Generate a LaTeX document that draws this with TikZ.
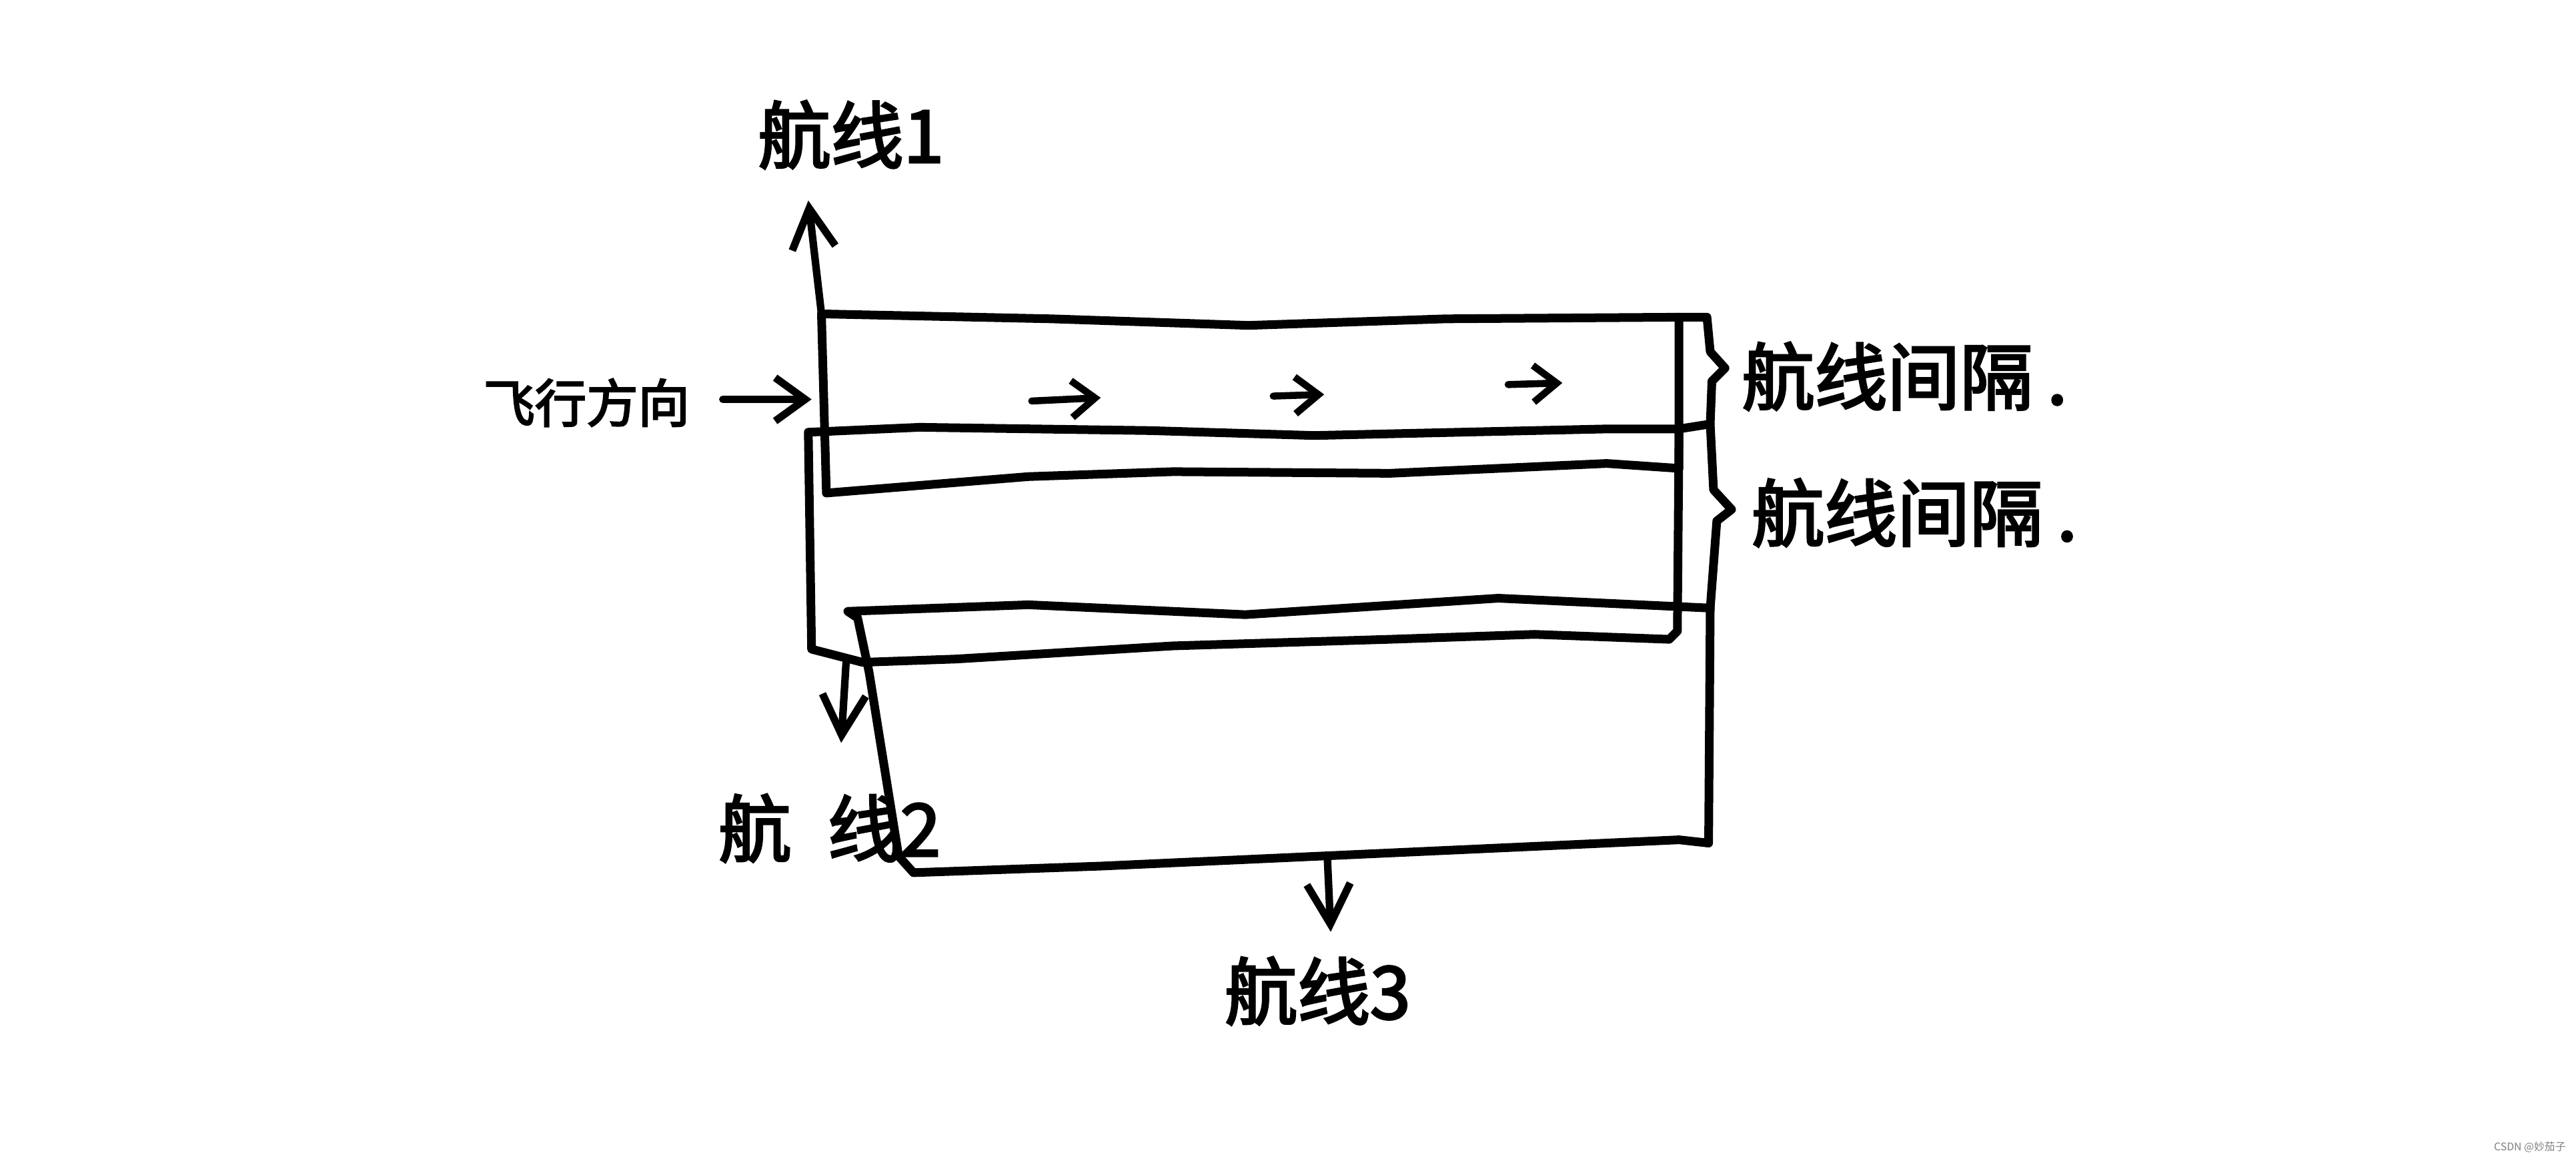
\documentclass[tikz,border=0pt]{standalone}
\usepackage{fontspec}
\newfontfamily\cjk{Noto Sans CJK SC}[AutoFakeBold=3]
\usetikzlibrary{arrows.meta}

\begin{document}
\begin{tikzpicture}[x=0.02463cm, y=-0.02463cm, font=\cjk,
		>={Straight Barb[length=6mm,width=6.5mm]},
		strip/.style={line width=3.7pt, line join=round, line cap=round},
		route/.style={->, line width=3.2pt, line cap=round},
		heading/.style={->, line width=3pt, line cap=round, >={Straight Barb[length=3.5mm,width=5.5mm]}},
		label/.style={font=\cjk\bfseries\fontsize{31}{34}\selectfont, inner sep=0pt}]
		\useasboundingbox (0,0) rectangle (1568,704);
		\coordinate (S1NW) at (500,191);
		\coordinate (S1NE) at (1022,193);
		\coordinate (S2NW) at (492,263);
		\coordinate (S2NE) at (1022,261);
		\coordinate (S2Foot) at (515,403);
		\coordinate (S3NE) at (1041,370);
		\coordinate (S3Foot) at (808,523);
		\draw[strip] (S1NW) -- (640,194) -- (760,198) -- (880,194) -- (S1NE) -- (1022,285) -- (978,282) -- (846,288) -- (714,287) -- (626,290) -- (503,300) -- cycle;
		\draw[strip] (S2NW) -- (560,260) -- (700,262) -- (800,265) -- (978,261) -- (S2NE) -- (1021,384) -- (1016,389) -- (934,386) -- (846,389) -- (714,393) -- (582,401) -- (525,403) -- (494,395) -- cycle;
		\draw[strip] (516,372) -- (626,368) -- (758,374) -- (912,364) -- (S3NE) -- (1040,513) -- (1022,511) -- (934,515) -- (802,521) -- (670,527) -- (556,531) -- (547,521) -- (529,409) -- (522,376) -- cycle;
		\draw[strip] (S1NE) -- (1039,193) -- (1041,214) -- (1050,224) coordinate (Gap1Tip) -- (1042,232) -- (1041,258) -- (S2NE);
		\draw[strip] (1041,258) -- (1043,298) -- (1054,310) coordinate (Gap2Tip) -- (1045,317) -- (S3NE);
		\node[label, anchor=west] (Gap1) at (1060,229) {航线间隔\hspace{0.2em}.};
		\node[label, anchor=west] (Gap2) at (1066,312) {航线间隔\hspace{0.2em}.};
		\node[label] (Route1) at (518,82) {航线1};
		\coordinate (Route1Tip) at (492,122);
		\draw[route] (S1NW) -- (Route1Tip);
		\node[label] (Route2) at (505,504) {航\hspace{0.5em}线2};
		\coordinate (Route2Tip) at (512,452);
		\draw[route] (S2Foot) -- (Route2Tip);
		\node[label] (Route3) at (802,603) {航线3};
		\coordinate (Route3Tip) at (810,567);
		\draw[route] (S3Foot) -- (Route3Tip);
		\node[font=\cjk\bfseries\fontsize{22}{24}\selectfont, inner sep=0pt] (Direction) at (357,245) {飞行方向};
		\coordinate (DirTail) at (440,243);
		\coordinate (DirTip) at (494,243);
		\draw[route, >={Straight Barb[length=4.5mm,width=6.5mm]}] (DirTail) -- (DirTip);
		\coordinate (Head1Tail) at (628,244);
		\coordinate (Head1Tip) at (670,242);
		\coordinate (Head2Tail) at (775,241);
		\coordinate (Head2Tip) at (806,240);
		\coordinate (Head3Tail) at (918,234);
		\coordinate (Head3Tip) at (951,233);
		\draw[heading] (Head1Tail) -- (Head1Tip);
		\draw[heading] (Head2Tail) -- (Head2Tip);
		\draw[heading] (Head3Tail) -- (Head3Tip);
		\node[font=\cjk\fontsize{4.5}{5}\selectfont, text=gray, anchor=east, inner sep=0pt] (Mark) at (1562,698) {CSDN @妙茄子};
	\end{tikzpicture}
\end{document}
